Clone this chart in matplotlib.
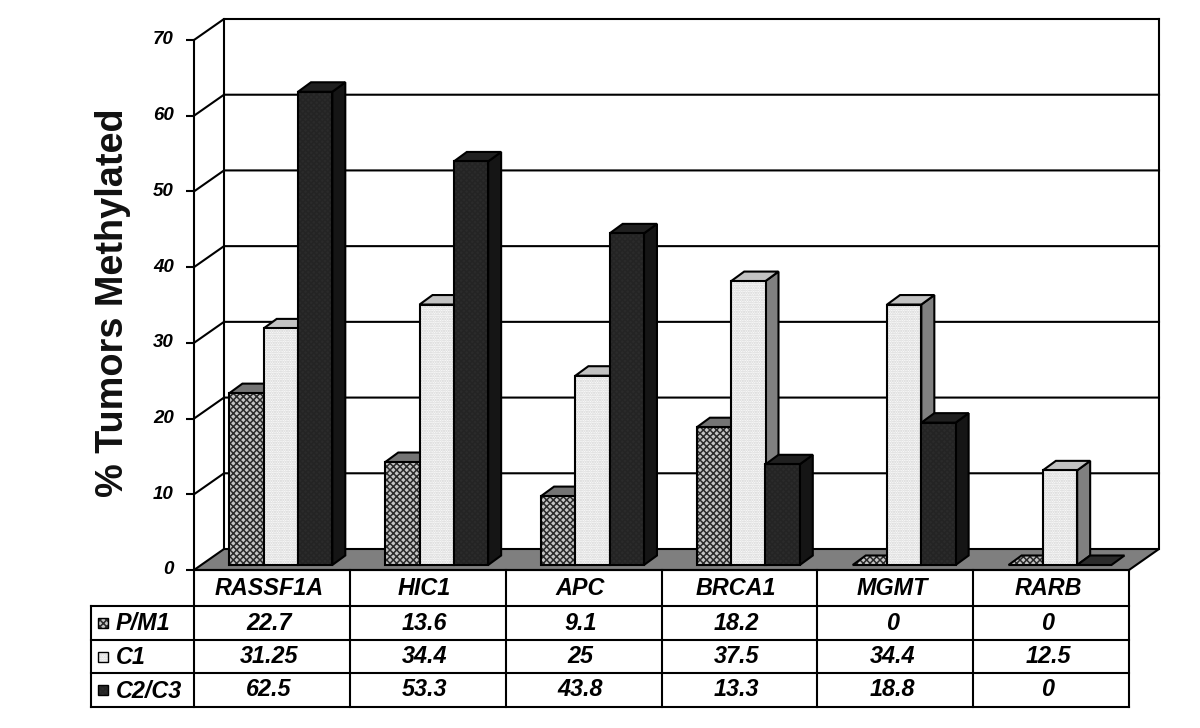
import matplotlib
matplotlib.use("Agg")
import matplotlib.pyplot as plt
from matplotlib.patches import Polygon, Rectangle
from matplotlib.transforms import ScaledTranslation

plt.rcParams['font.family'] = ['Liberation Sans', 'DejaVu Sans']
plt.rcParams['hatch.linewidth'] = 1.1

categories = ["RASSF1A", "HIC1", "APC", "BRCA1", "MGMT", "RARB"]
series_names = ["P/M1", "C1", "C2/C3"]
pm1 = [22.7, 13.6, 9.1, 18.2, 0, 0]
c1 = [31.25, 34.4, 25, 37.5, 34.4, 12.5]
c2c3 = [62.5, 53.3, 43.8, 13.3, 18.8, 0]
pm1_labels = ["22.7", "13.6", "9.1", "18.2", "0", "0"]
c1_labels = ["31.25", "34.4", "25", "37.5", "34.4", "12.5"]
c2c3_labels = ["62.5", "53.3", "43.8", "13.3", "18.8", "0"]
y_ticks = [0, 10, 20, 30, 40, 50, 60, 70]

W, H = 1200, 728
fig = plt.figure(figsize=(W / 100, H / 100), dpi=100)
L, R, B, T = 194, 1129, 570, 40
ax = fig.add_axes([L / W, 1 - B / H, (R - L) / W, (B - T) / H])
ax.set_xlim(0, len(categories))
ax.set_ylim(0, 70)
ux = (R - L) / len(categories)   # px per category
uy = (B - T) / 70                # px per percent

# depth of the floor/wall and of the bars, in data units
wall_dx, wall_dy = 30 / ux, 21 / uy
bar_dx, bar_dy = 13 / ux, 9.5 / uy
bar_w = 34.3 / ux
bar_base = 5 / uy
first_left = 35.4 / ux
LW = 1.5

# walls and gridlines
for v in y_ticks[1:]:
    ax.plot([0, wall_dx, len(categories) + wall_dx], [v, v + wall_dy, v + wall_dy],
            color='black', lw=LW, clip_on=False, zorder=1)
ax.plot([wall_dx, wall_dx], [wall_dy, 70 + wall_dy], color='black', lw=LW, clip_on=False, zorder=1)
ax.plot([len(categories) + wall_dx] * 2, [wall_dy, 70 + wall_dy], color='black', lw=LW, clip_on=False, zorder=1)
ax.add_patch(Polygon([(0, 0), (wall_dx, wall_dy), (len(categories) + wall_dx, wall_dy),
                      (len(categories), 0)], closed=True, fc='#7f7f7f', ec='black', lw=LW,
                     clip_on=False, zorder=2))

styles = [
    dict(fc='#c4c4c4', hatch='xxxxx', hc='#2a2a2a', top='#747474', side='#555555'),
    dict(fc='#fdfdfd', hatch='.......', hc='#d0d0d0', top='#c2c2c2', side='#808080'),
    dict(fc='#2b2b2b', hatch='xxxxxx', hc='#242424', top='#202020', side='#151515'),
]

z = 3
for i in range(len(categories)):
    for j, vals in enumerate([pm1, c1, c2c3]):
        st = styles[j]
        v = vals[i]
        x0 = i + first_left + j * bar_w
        x1 = x0 + bar_w
        y0 = bar_base
        y1 = y0 + v
        if v > 0:
            ax.add_patch(Polygon([(x1, y0), (x1 + bar_dx, y0 + bar_dy), (x1 + bar_dx, y1 + bar_dy), (x1, y1)],
                                 closed=True, fc=st['side'], ec='black', lw=LW, clip_on=False, zorder=z))
            z += 1
            ax.add_patch(Polygon([(x0, y1), (x0 + bar_dx, y1 + bar_dy), (x1 + bar_dx, y1 + bar_dy), (x1, y1)],
                                 closed=True, fc=st['top'], ec='black', lw=LW, clip_on=False, zorder=z))
            z += 1
            ax.bar(x0, v, bar_w, bottom=y0, align='edge', color=st['fc'], edgecolor=st['hc'],
                   hatch=st['hatch'], lw=0, clip_on=False, zorder=z)
            z += 1
            ax.bar(x0, v, bar_w, bottom=y0, align='edge', fill=False, edgecolor='black',
                   lw=LW, clip_on=False, zorder=z)
            z += 1
        else:
            pts = [(x0, y1), (x0 + bar_dx, y1 + bar_dy), (x1 + bar_dx, y1 + bar_dy), (x1, y1)]
            if j == 0:
                ax.add_patch(Polygon(pts, closed=True, fc=st['fc'], ec=st['hc'], hatch=st['hatch'], lw=0,
                                     clip_on=False, zorder=z))
            else:
                ax.add_patch(Polygon(pts, closed=True, fc=st['fc'], lw=0, clip_on=False, zorder=z))
            z += 1
            ax.add_patch(Polygon(pts, closed=True, fill=False, ec='black', lw=LW, clip_on=False, zorder=z))
            z += 1

# axis
for s in ['top', 'right', 'bottom']:
    ax.spines[s].set_visible(False)
ax.spines['left'].set_linewidth(LW)
ax.spines['left'].set_zorder(z)
ax.patch.set_visible(False)
ax.set_xticks([])
ax.set_yticks(y_ticks)
ax.tick_params(axis='y', length=5.5, width=LW, pad=9)
up = ScaledTranslation(0, 2 / 100, fig.dpi_scale_trans)
for t in ax.get_yticklabels():
    t.set_fontsize(13.5)
    t.set_fontweight('bold')
    t.set_fontstyle('italic')
    t.set_transform(t.get_transform() + up)
fig.text(113 / W, 1 - 303 / H, "% Tumors Methylated", rotation=90, ha='center', va='center',
         fontsize=27.3, fontweight='bold', color='#111111')

# data table
TL = 91
TB = 707
tax = fig.add_axes([TL / W, 1 - TB / H, (R - TL) / W, (TB - B) / H])
tax.set_xlim(-(L - TL) / ux, len(categories))
tax.set_ylim(TB, B)
tax.axis('off')
row_edges = [B, 606, 640, 673, TB]
for k, ye in enumerate(row_edges):
    tax.plot([0 if k == 0 else tax.get_xlim()[0], len(categories)], [ye, ye], color='black', lw=LW, clip_on=False)
for c in range(len(categories) + 1):
    tax.plot([c, c], [B, TB], color='black', lw=LW, clip_on=False)
tax.plot([tax.get_xlim()[0]] * 2, [row_edges[1], TB], color='black', lw=LW, clip_on=False)

FS = 16.8
for c, name in enumerate(categories):
    tax.text(c + 0.48, (row_edges[0] + row_edges[1]) / 2 + 0.5, name, ha='center', va='center', fontsize=FS,
             fontweight='bold', fontstyle='italic')
rows = [pm1_labels, c1_labels, c2c3_labels]
swatch_w = 10 / ux
for r, labels in enumerate(rows):
    cy = (row_edges[r + 1] + row_edges[r + 2]) / 2
    for c, s in enumerate(labels):
        tax.text(c + 0.48, cy, s, ha='center', va='center', fontsize=FS,
                 fontweight='bold', fontstyle='italic')
    st = styles[r]
    sx = tax.get_xlim()[0] + 6.5 / ux
    tax.add_patch(Rectangle((sx, cy - 5), swatch_w, 10, fc=st['fc'], ec=st['hc'], hatch=st['hatch'], lw=0))
    tax.add_patch(Rectangle((sx, cy - 5), swatch_w, 10, fill=False, ec='black', lw=1.0))
    tax.text(sx + 18 / ux, cy + 1, series_names[r], ha='left', va='center', fontsize=FS,
             fontweight='bold', fontstyle='italic')

fig.savefig("out.png", dpi=100, facecolor='white')
